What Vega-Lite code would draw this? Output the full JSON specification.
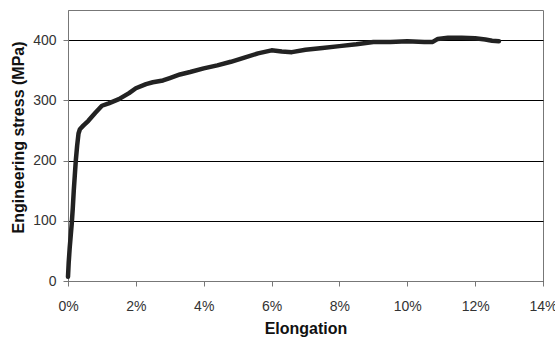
{
  "$schema": "https://vega.github.io/schema/vega-lite/v6.json",
  "width": 475,
  "height": 271,
  "autosize": {"type": "none"},
  "padding": {"left": 68, "top": 10, "right": 12, "bottom": 57},
  "background": "white",
  "config": {
    "view": {"stroke": "#777", "strokeWidth": 1},
    "font": "Liberation Sans",
    "axis": {
      "labelFont": "Liberation Sans",
      "titleFont": "Liberation Sans",
      "labelFontSize": 14,
      "titleFontSize": 16,
      "labelColor": "#333",
      "titleColor": "#111",
      "domainColor": "#777",
      "tickColor": "#777",
      "tickSize": 5
    }
  },
  "data": {
    "values": [
      {"elongation": 0.00, "stress": 7},
      {"elongation": 0.02, "stress": 30},
      {"elongation": 0.05, "stress": 55},
      {"elongation": 0.08, "stress": 75},
      {"elongation": 0.11, "stress": 95},
      {"elongation": 0.14, "stress": 120},
      {"elongation": 0.17, "stress": 150},
      {"elongation": 0.20, "stress": 175},
      {"elongation": 0.23, "stress": 200},
      {"elongation": 0.27, "stress": 225},
      {"elongation": 0.31, "stress": 245},
      {"elongation": 0.35, "stress": 252},
      {"elongation": 0.45, "stress": 258},
      {"elongation": 0.6, "stress": 266},
      {"elongation": 0.8, "stress": 279},
      {"elongation": 1.0, "stress": 291},
      {"elongation": 1.2, "stress": 295},
      {"elongation": 1.5, "stress": 302},
      {"elongation": 1.8, "stress": 312},
      {"elongation": 2.0, "stress": 320},
      {"elongation": 2.3, "stress": 327},
      {"elongation": 2.5, "stress": 330},
      {"elongation": 2.8, "stress": 333},
      {"elongation": 3.0, "stress": 337},
      {"elongation": 3.3, "stress": 343},
      {"elongation": 3.6, "stress": 347},
      {"elongation": 4.0, "stress": 353},
      {"elongation": 4.4, "stress": 358},
      {"elongation": 4.8, "stress": 364},
      {"elongation": 5.2, "stress": 371},
      {"elongation": 5.6, "stress": 378},
      {"elongation": 6.0, "stress": 383},
      {"elongation": 6.3, "stress": 381},
      {"elongation": 6.6, "stress": 380},
      {"elongation": 7.0, "stress": 384},
      {"elongation": 7.5, "stress": 387},
      {"elongation": 8.0, "stress": 390},
      {"elongation": 8.5, "stress": 393},
      {"elongation": 9.0, "stress": 397},
      {"elongation": 9.5, "stress": 397},
      {"elongation": 10.0, "stress": 398},
      {"elongation": 10.5, "stress": 397},
      {"elongation": 10.75, "stress": 397},
      {"elongation": 10.9, "stress": 402},
      {"elongation": 11.2, "stress": 404},
      {"elongation": 11.6, "stress": 404},
      {"elongation": 12.0, "stress": 403},
      {"elongation": 12.3, "stress": 401},
      {"elongation": 12.5, "stress": 399},
      {"elongation": 12.7, "stress": 398}
    ]
  },
  "mark": {"type": "line", "color": "#222", "strokeWidth": 4.5, "strokeJoin": "round", "strokeCap": "round"},
  "encoding": {
    "x": {
      "field": "elongation",
      "type": "quantitative",
      "scale": {"domain": [0, 14], "nice": false},
      "axis": {
        "title": "Elongation",
        "values": [0, 2, 4, 6, 8, 10, 12, 14],
        "labelExpr": "datum.value + '%'",
        "grid": false,
        "labelPadding": 13,
        "titlePadding": 7,
        "labelFlush": false
      }
    },
    "y": {
      "field": "stress",
      "type": "quantitative",
      "scale": {"domain": [0, 450], "nice": false},
      "axis": {
        "title": "Engineering stress (MPa)",
        "values": [0, 100, 200, 300, 400],
        "grid": true,
        "gridColor": "#000",
        "gridOpacity": 1,
        "gridWidth": 1,
        "labelPadding": 7,
        "titleX": -42,
        "titleY": 127
      }
    }
  }
}
